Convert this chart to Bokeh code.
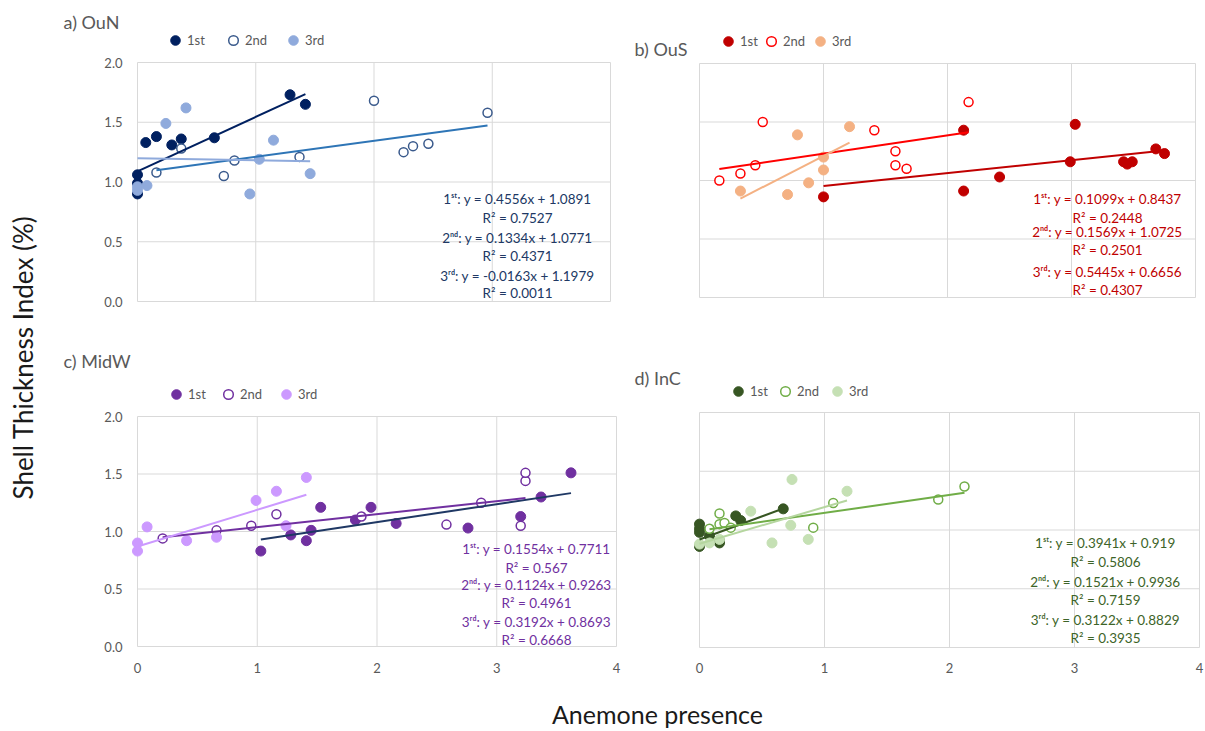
import math

from bokeh.embed import file_html
from bokeh.layouts import column, row
from bokeh.models import Label, Legend, LegendItem, Range1d
from bokeh.plotting import figure
from bokeh.resources import INLINE

FONT = "Lato"
TICK_GRAY = "#595959"
GRID_GRAY = "#D9D9D9"

SERIES = ["1st", "2nd", "3rd"]
ORDINALS = ["1ˢᵗ", "2ⁿᵈ", "3ʳᵈ"]

# ---------------- data: anemone presence (x) vs shell thickness index (y) ----------------
# a) OuN
oun_1st_x = [0, 0, 0, 0.07, 0.16, 0.29, 0.37, 0.65, 1.29, 1.42]
oun_1st_y = [1.06, 0.99, 0.90, 1.33, 1.38, 1.31, 1.36, 1.37, 1.73, 1.65]
oun_2nd_x = [0.16, 0.37, 0.73, 0.82, 1.37, 2.00, 2.25, 2.33, 2.46, 2.96]
oun_2nd_y = [1.08, 1.28, 1.05, 1.18, 1.21, 1.68, 1.25, 1.30, 1.32, 1.58]
oun_3rd_x = [0, 0, 0.08, 0.24, 0.41, 0.95, 1.03, 1.15, 1.46]
oun_3rd_y = [0.96, 0.93, 0.97, 1.49, 1.62, 0.90, 1.19, 1.35, 1.07]
oun_slope = [0.4556, 0.1334, -0.0163]
oun_intercept = [1.0891, 1.0771, 1.1979]
oun_r2 = [0.7527, 0.4371, 0.0011]

# b) OuS
ous_1st_x = [1.00, 2.13, 2.13, 2.42, 2.99, 3.03, 3.42, 3.45, 3.49, 3.68, 3.75]
ous_1st_y = [0.86, 1.43, 0.91, 1.03, 1.16, 1.48, 1.16, 1.14, 1.16, 1.27, 1.23]
ous_2nd_x = [0.16, 0.33, 0.45, 0.51, 1.41, 1.58, 1.58, 1.67, 2.17]
ous_2nd_y = [1.00, 1.06, 1.13, 1.50, 1.43, 1.25, 1.13, 1.10, 1.67]
ous_3rd_x = [0.33, 0.71, 0.79, 0.88, 1.00, 1.00, 1.21]
ous_3rd_y = [0.91, 0.88, 1.39, 0.98, 1.20, 1.09, 1.46]
ous_slope = [0.1099, 0.1569, 0.5445]
ous_intercept = [0.8437, 1.0725, 0.6656]
ous_r2 = [0.2448, 0.2501, 0.4307]

# c) MidW
midw_1st_x = [1.03, 1.28, 1.41, 1.45, 1.53, 1.82, 1.95, 2.16, 2.76, 3.20, 3.37, 3.62]
midw_1st_y = [0.83, 0.97, 0.92, 1.01, 1.21, 1.10, 1.21, 1.07, 1.03, 1.13, 1.30, 1.51]
midw_2nd_x = [0.21, 0.66, 0.95, 1.16, 1.87, 2.58, 2.87, 3.20, 3.24, 3.24]
midw_2nd_y = [0.94, 1.01, 1.05, 1.15, 1.13, 1.06, 1.25, 1.05, 1.44, 1.51]
midw_3rd_x = [0, 0, 0.08, 0.41, 0.66, 0.99, 1.16, 1.24, 1.41]
midw_3rd_y = [0.90, 0.83, 1.04, 0.92, 0.95, 1.27, 1.35, 1.05, 1.47]
midw_slope = [0.1554, 0.1124, 0.3192]
midw_intercept = [0.7711, 0.9263, 0.8693]
midw_r2 = [0.567, 0.4961, 0.6668]

# d) InC
inc_1st_x = [0, 0, 0, 0, 0.08, 0.16, 0.16, 0.29, 0.33, 0.67]
inc_1st_y = [1.05, 1.01, 0.98, 0.86, 0.95, 0.89, 0.91, 1.12, 1.08, 1.18]
inc_2nd_x = [0.08, 0.16, 0.16, 0.20, 0.25, 0.91, 1.07, 1.91, 2.12]
inc_2nd_y = [1.01, 1.14, 1.05, 1.06, 1.02, 1.02, 1.23, 1.26, 1.37]
inc_3rd_x = [0, 0.08, 0.16, 0.41, 0.58, 0.73, 0.74, 0.87, 1.18]
inc_3rd_y = [0.88, 0.89, 0.92, 1.16, 0.89, 1.04, 1.43, 0.92, 1.33]
inc_slope = [0.3941, 0.1521, 0.3122]
inc_intercept = [0.919, 0.9936, 0.8829]
inc_r2 = [0.5806, 0.7159, 0.3935]

x_ticks = [0, 1, 2, 3, 4]
y_ticks = [0.0, 0.5, 1.0, 1.5, 2.0]
x_tick_labels = ["0", "1", "2", "3", "4"]
y_tick_labels = ["0.0", "0.5", "1.0", "1.5", "2.0"]

# ---------------- panel styling and placement (page pixels) ----------------
PANELS = {
    "a": dict(title="a) OuN", origin=(45, 0), size=(587, 345), box=(137, 62, 610, 301),
              title_at=(63, 21), show_x=False, show_y=True,
              xs=[oun_1st_x, oun_2nd_x, oun_3rd_x], ys=[oun_1st_y, oun_2nd_y, oun_3rd_y],
              slope=oun_slope, intercept=oun_intercept, r2=oun_r2,
              marker_colors=["#002060", "#3A5A8C", "#8FAADC"],
              line_colors=["#002060", "#2E75B6", "#8FAADC"],
              text_color="#203864",
              legend_at=[(175, 40), (233, 40), (293, 40)],
              eq_x=517, eq_y=[198, 217, 237, 255, 275, 292]),
    "b": dict(title="b) OuS", origin=(632, 0), size=(573, 345), box=(699, 63, 1195, 297),
              title_at=(634, 48), show_x=False, show_y=False,
              xs=[ous_1st_x, ous_2nd_x, ous_3rd_x], ys=[ous_1st_y, ous_2nd_y, ous_3rd_y],
              slope=ous_slope, intercept=ous_intercept, r2=ous_r2,
              marker_colors=["#C00000", "#FF0000", "#F4B183"],
              line_colors=["#C00000", "#FF0000", "#F4B183"],
              text_color="#C00000",
              legend_at=[(728, 41), (771, 41), (820, 41)],
              eq_x=1107, eq_y=[198, 217, 231, 249, 271, 289]),
    "c": dict(title="c) MidW", origin=(45, 345), size=(587, 345), box=(137, 416, 616, 646),
              title_at=(63, 360), show_x=True, show_y=True,
              xs=[midw_1st_x, midw_2nd_x, midw_3rd_x], ys=[midw_1st_y, midw_2nd_y, midw_3rd_y],
              slope=midw_slope, intercept=midw_intercept, r2=midw_r2,
              marker_colors=["#7030A0", "#7030A0", "#CC99FF"],
              line_colors=["#1F3864", "#7030A0", "#CC99FF"],
              text_color="#7030A0",
              legend_at=[(176, 394), (228, 394), (286, 394)],
              eq_x=536, eq_y=[548, 567, 584, 602, 621, 639]),
    "d": dict(title="d) InC", origin=(632, 345), size=(573, 345), box=(699, 412, 1199, 647),
              title_at=(634, 377), show_x=True, show_y=False,
              xs=[inc_1st_x, inc_2nd_x, inc_3rd_x], ys=[inc_1st_y, inc_2nd_y, inc_3rd_y],
              slope=inc_slope, intercept=inc_intercept, r2=inc_r2,
              marker_colors=["#375623", "#70AD47", "#C5E0B4"],
              line_colors=["#375623", "#70AD47", "#B5D69F"],
              text_color="#3D6428",
              legend_at=[(738, 391), (785, 391), (837, 391)],
              eq_x=1105, eq_y=[542, 561, 581, 599, 619, 637]),
}

Y_LABEL_RIGHT = 122   # right edge of the y tick labels
X_LABEL_Y = 667       # vertical centre of the x tick labels


def fmt(v):
    return f"{v:g}"


def make_panel(cfg):
    L, T, R, B = cfg["box"]
    ox, oy = cfg["origin"]
    w, h = cfg["size"]
    sx = (R - L) / 4.0
    sy = (B - T) / 2.0

    # the frame fills the whole figure; the 0-4 / 0-2 plot area sits inside it
    p = figure(width=w, height=h,
               x_range=Range1d((ox - L) / sx, (ox + w - L) / sx),
               y_range=Range1d((B - (oy + h)) / sy, (B - oy) / sy),
               min_border=0, output_backend="svg", toolbar_location=None,
               outline_line_color=None, background_fill_color="white",
               border_fill_color="white")
    p.axis.visible = False
    p.grid.visible = False

    # gridlines of the plot area, its outer box included
    xmin, xmax = x_ticks[0], x_ticks[-1]
    ymin, ymax = y_ticks[0], y_ticks[-1]
    p.segment(x0=x_ticks, y0=[ymin] * len(x_ticks), x1=x_ticks, y1=[ymax] * len(x_ticks),
              line_color=GRID_GRAY, line_width=1)
    p.segment(x0=[xmin] * len(y_ticks), y0=y_ticks, x1=[xmax] * len(y_ticks), y1=y_ticks,
              line_color=GRID_GRAY, line_width=1)

    # tick labels
    if cfg["show_y"]:
        p.text(x=[(Y_LABEL_RIGHT - L) / sx] * len(y_ticks), y=y_ticks, text=y_tick_labels,
               text_font={"value": FONT}, text_font_size="13px", text_color=TICK_GRAY,
               text_align="right", text_baseline="middle")
    if cfg["show_x"]:
        p.text(x=x_ticks, y=[(B - X_LABEL_Y) / sy] * len(x_ticks), text=x_tick_labels,
               text_font={"value": FONT}, text_font_size="13px", text_color=TICK_GRAY,
               text_align="center", text_baseline="middle")

    def at(cx, cy):
        return cx - ox, (oy + h) - cy

    renderers = []
    for i in range(3):
        c = cfg["marker_colors"][i]
        if i == 1:
            r = p.scatter(cfg["xs"][i], cfg["ys"][i], marker="circle", size=9,
                          fill_color="white", line_color=c, line_width=1.5)
        else:
            r = p.scatter(cfg["xs"][i], cfg["ys"][i], marker="circle", size=10,
                          fill_color=c, line_color=c)
        renderers.append(r)

    # linear trend lines from the stated fits, over each series' x span
    for i in range(3):
        x0, x1 = min(cfg["xs"][i]), max(cfg["xs"][i])
        m, b = cfg["slope"][i], cfg["intercept"][i]
        p.line([x0, x1], [m * x0 + b, m * x1 + b], line_color=cfg["line_colors"][i],
               line_width=2)

    # one legend entry per series, laid out in a row above the plot area
    for i, (cx, cy) in enumerate(cfg["legend_at"]):
        lx, ly = at(cx - 12, cy + 12)
        p.add_layout(Legend(items=[LegendItem(label=SERIES[i], renderers=[renderers[i]])],
                            location=(lx, ly), orientation="horizontal",
                            glyph_width=24, glyph_height=24, label_standoff=0,
                            label_height=24, padding=0, margin=0, spacing=0,
                            border_line_color=None, background_fill_alpha=0,
                            label_text_font=FONT, label_text_font_size="13px",
                            label_text_color=TICK_GRAY))

    # panel title
    tx, ty = at(*cfg["title_at"])
    p.add_layout(Label(x=tx, y=ty, x_units="screen", y_units="screen", text=cfg["title"],
                       text_font=FONT, text_font_size="18px", text_color=TICK_GRAY,
                       text_align="left", text_baseline="middle"))

    # regression equations and R² values
    lines = []
    for i in range(3):
        lines.append(f"{ORDINALS[i]}: y = {fmt(cfg['slope'][i])}x + {fmt(cfg['intercept'][i])}")
        lines.append(f"R² = {fmt(cfg['r2'][i])}")
    for text, cy in zip(lines, cfg["eq_y"]):
        lx, ly = at(cfg["eq_x"], cy)
        p.add_layout(Label(x=lx, y=ly, x_units="screen", y_units="screen", text=text,
                           text_font=FONT, text_font_size="13.5px",
                           text_color=cfg["text_color"], text_align="center",
                           text_baseline="middle"))
    return p


def blank(width, height):
    f = figure(width=width, height=height, x_range=Range1d(0, 1), y_range=Range1d(0, 1),
               min_border=0, output_backend="svg", toolbar_location=None,
               outline_line_color=None, background_fill_color="white",
               border_fill_color="white")
    f.axis.visible = False
    f.grid.visible = False
    return f


pa = make_panel(PANELS["a"])
pb = make_panel(PANELS["b"])
pc = make_panel(PANELS["c"])
pd = make_panel(PANELS["d"])

# shared axis titles
ytitle = blank(45, 731)
ytitle.add_layout(Label(x=22, y=731 - 357, x_units="screen", y_units="screen",
                        text="Shell Thickness Index (%)", angle=math.pi / 2,
                        text_font=FONT, text_font_size="26px", text_color="#1A1A1A",
                        text_align="center", text_baseline="middle"))
xtitle = blank(1160, 41)
xtitle.add_layout(Label(x=657 - 45, y=731 - 713, x_units="screen", y_units="screen",
                        text="Anemone presence", text_font=FONT, text_font_size="25px",
                        text_color="#1A1A1A", text_align="center", text_baseline="middle"))

page = row(ytitle, column(row(pa, pb), row(pc, pd), xtitle))

with open("out.html", "w") as fh:
    fh.write(file_html(page, INLINE))
